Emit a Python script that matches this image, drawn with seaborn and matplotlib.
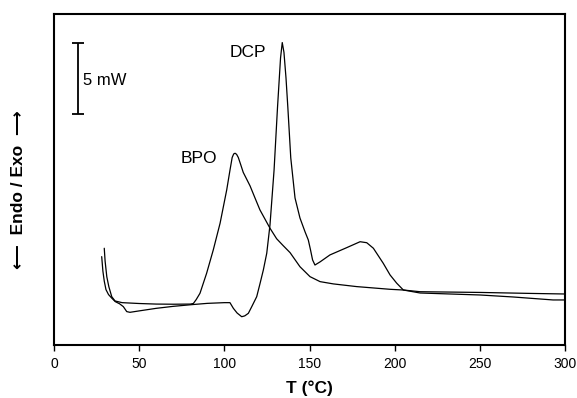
import matplotlib
matplotlib.use("Agg")
import matplotlib.pyplot as plt
import seaborn as sns
import pandas as pd

# ---- data ----
bpo_T = [29.5, 30.0, 31.0, 32.2, 33.9, 35.8, 40, 50, 60, 70, 80, 81.8, 83.5, 85.7,
         89.6, 93.5, 97.5, 101.4, 103.3, 104.6, 105.5, 106.3, 107.2, 108.2, 109.6,
         111.1, 113.0, 115.1, 118.0, 120.9, 126.8, 130.7, 134.5, 138.6, 144.4, 150.3,
         156.2, 164.0, 177.7, 197.3, 205.1, 214.9, 250, 280, 300]
bpo_y = [6.81, 5.9, 4.8, 4.1, 3.4, 3.10, 2.98, 2.92, 2.88, 2.87, 2.88, 2.92, 3.2, 3.64,
         5.05, 6.69, 8.57, 10.92, 12.3, 13.2, 13.45, 13.50, 13.42, 13.2, 12.7,
         12.15, 11.7, 11.2, 10.35, 9.51, 8.22, 7.48, 7.0, 6.5, 5.51, 4.81,
         4.46, 4.30, 4.11, 3.92, 3.87, 3.75, 3.70, 3.63, 3.59]

dcp_T = [28.0, 28.7, 29.5, 30.5, 32.0, 33.9, 36.0, 38.5, 40.7, 42.7, 44.6, 50, 60, 70,
         81.8, 90, 100, 103.3, 105.3, 107.5, 110.2, 112, 114.1, 116.1, 119.0, 120.9,
         122.9, 124.9, 126.8, 129.2, 131.2, 133.0, 134.0, 135.0, 136.2, 137.3, 139.0,
         141.5, 144.4, 147.4, 149.3, 150.6, 151.8, 153.2, 156.2, 162.0, 171.8, 179.7,
         183.6, 187.5, 193.3, 197.3, 201.2, 205.1, 214.9, 250.1, 269.5, 293.0, 300]
dcp_y = [6.22, 5.2, 4.5, 3.9, 3.55, 3.30, 3.05, 2.9, 2.7, 2.35, 2.30, 2.40, 2.58, 2.72,
         2.85, 2.93, 2.98, 2.98, 2.58, 2.25, 1.99, 2.05, 2.23, 2.70, 3.40, 4.3,
         5.28, 6.46, 8.45, 12.32, 16.69, 20.21, 21.29, 20.6, 18.8, 16.69, 13.17,
         10.35, 8.94, 7.96, 7.39, 6.69, 5.99, 5.63, 5.85, 6.34, 6.85, 7.27,
         7.20, 6.81, 5.75, 4.93, 4.35, 3.87, 3.66, 3.52, 3.38, 3.17, 3.17]

x_ticks = [0, 50, 100, 150, 200, 250, 300]

df = pd.concat([
    pd.DataFrame({"T": bpo_T, "Q": bpo_y, "sample": "BPO"}),
    pd.DataFrame({"T": dcp_T, "Q": dcp_y, "sample": "DCP"}),
])

sns.set_theme(style="ticks")
plt.rcParams["font.family"] = ["Liberation Sans", "DejaVu Sans"]

fig = plt.figure(figsize=(5.77, 3.98), dpi=100)
ax = fig.add_axes([0.0936, 0.1332, 0.8856, 0.8316])

sns.lineplot(data=df, x="T", y="Q", hue="sample", units="sample", estimator=None,
             palette={"BPO": "black", "DCP": "black"}, linewidth=0.9, legend=False,
             ax=ax)

ax.set_xlim(0, 300)
ax.set_ylim(0, 23.3)
ax.set_xticks(x_ticks)
ax.set_yticks([])
ax.tick_params(axis="x", direction="out", length=4.5, width=1.0, labelsize=10,
               color="black", labelcolor="black", pad=4)
for s in ax.spines.values():
    s.set_visible(True)
    s.set_linewidth(1.5)
    s.set_color("black")

ax.set_xlabel("T (°C)", fontsize=12.5, fontweight="bold", labelpad=7, color="black")
ax.set_ylabel("\u27f5  Endo / Exo  \u27f6", fontsize=12.5, fontweight="bold",
              color="black")
ax.yaxis.set_label_coords(-0.055, 0.468)

# scale bar 5 mW
ax.errorbar([14.3], [18.77], yerr=[[2.52], [2.52]], fmt="none", ecolor="black",
            elinewidth=1.3, capsize=4.5, capthick=1.3)
ax.text(17.0, 18.6, "5 mW", fontsize=12, va="center", ha="left", color="black")
ax.text(113.9, 20.56, "DCP", fontsize=12.5, va="center", ha="center", color="black")
ax.text(85.2, 13.13, "BPO", fontsize=12.5, va="center", ha="center", color="black")

fig.savefig("out.png", dpi=100)
